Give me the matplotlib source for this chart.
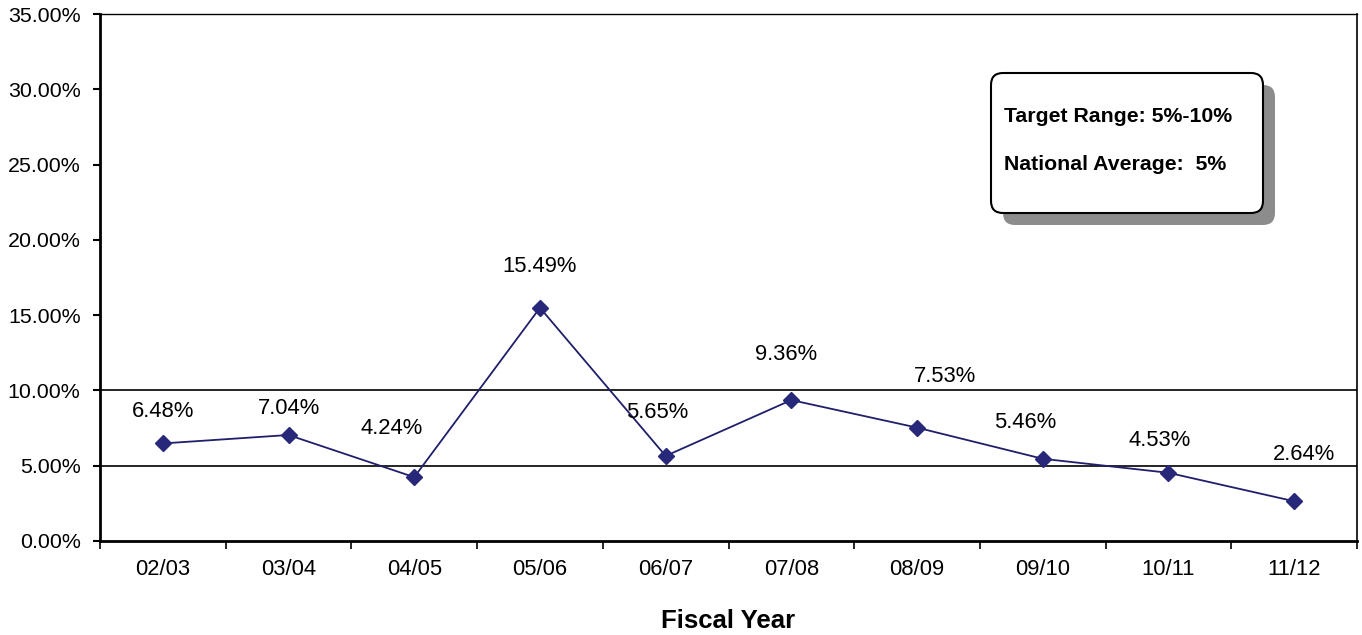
import matplotlib.pyplot as plt
from matplotlib.patches import FancyBboxPatch
from matplotlib.ticker import FixedLocator, PercentFormatter

plt.rcParams['font.family'] = ['Liberation Sans', 'DejaVu Sans']

years = ['02/03', '03/04', '04/05', '05/06', '06/07', '07/08', '08/09', '09/10', '10/11', '11/12']
rates = [6.48, 7.04, 4.24, 15.49, 5.65, 9.36, 7.53, 5.46, 4.53, 2.64]
target_low = 5
target_high = 10
box_lines = ['Target Range: 5%-10%', 'National Average:  5%']

# label offsets in points (dx, dy), as placed in the original
offsets = [(0, 23), (0, 19), (-16, 35), (0, 30), (-6, 31), (-4, 33), (20, 37), (-13, 26), (-6, 23), (7, 34)]

fig = plt.figure(figsize=(13.62, 6.35), dpi=100)
ax = fig.add_axes([100/1362, 94/635, 1257/1362, 527/635])

x = list(range(len(years)))
ax.axhline(target_low, color='black', lw=1.2, zorder=1)
ax.axhline(target_high, color='black', lw=1.2, zorder=1)
ax.plot(x, rates, color='#1f1f6b', lw=1.3, marker='D', markersize=8.5,
        markerfacecolor='#28287a', markeredgecolor='#28287a', zorder=3)

for i, v in enumerate(rates):
    ax.annotate(f'{v:.2f}%', (i, v), xytext=offsets[i], textcoords='offset points',
                ha='center', va='center', fontsize=15.8)

ax.set_xlim(-0.5, len(years) - 0.5)
ax.set_ylim(0, 35)
ax.set_yticks([0, 5, 10, 15, 20, 25, 30, 35])
ax.yaxis.set_major_formatter(PercentFormatter(decimals=2))
ax.set_xticks(x)
ax.set_xticklabels(years)
ax.xaxis.set_minor_locator(FixedLocator([i - 0.5 for i in range(len(years) + 1)]))
ax.tick_params(axis='x', which='major', length=0, pad=13, labelsize=15.8)
ax.tick_params(axis='x', which='minor', length=6, width=1.2, direction='out')
ax.tick_params(axis='y', length=5, width=1.5, direction='out', labelsize=15.4, pad=9)
ax.set_xlabel('Fiscal Year', fontsize=18.5, fontweight='bold', labelpad=21)

ax.spines['left'].set_linewidth(2)
ax.spines['bottom'].set_linewidth(2)
ax.spines['top'].set_linewidth(1)
ax.spines['right'].set_linewidth(1.2)

# text box with drop shadow (figure pixel coordinates)
W, H = 1362, 635
bx, by, bw, bh = 991, 635 - 213, 272, 140
shadow = FancyBboxPatch((bx + 12, by - 12), bw, bh, boxstyle='round,pad=0,rounding_size=12',
                        transform=None, facecolor='#8c8c8c', edgecolor='none', zorder=5)
box = FancyBboxPatch((bx, by), bw, bh, boxstyle='round,pad=0,rounding_size=12',
                     transform=None, facecolor='white', edgecolor='black', lw=1.5, zorder=6)
fig.patches.extend([shadow, box])
fig.text(1004 / W, 1 - 116 / H, box_lines[0], fontsize=15.3, fontweight='bold', va='center', zorder=7)
fig.text(1004 / W, 1 - 165 / H, box_lines[1], fontsize=15.3, fontweight='bold', va='center', zorder=7)

fig.savefig('out.png', dpi=100)
